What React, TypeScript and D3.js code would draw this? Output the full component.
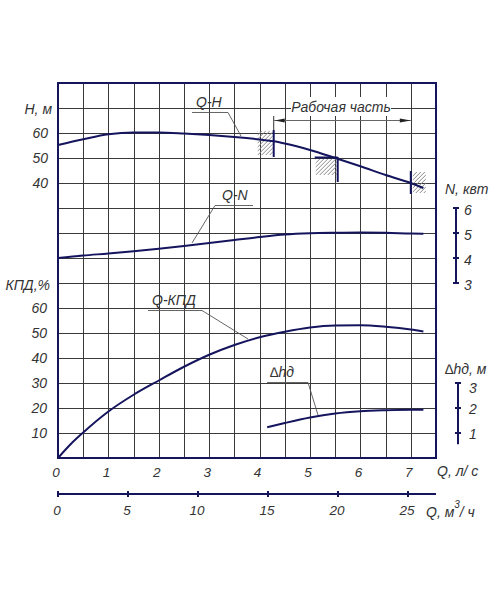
import React, { useEffect, useRef } from "react";
import * as d3 from "d3";

// Q-H curve (Q in l/s, H in m)
const qhFlow = [0, 0.5, 1, 1.5, 2, 2.5, 3, 3.5, 4, 4.28, 4.5, 5, 5.5, 6, 6.5, 7, 7.25];
const qhHead = [55.2, 57.5, 59.5, 60.2, 60.2, 59.8, 59.2, 58.4, 57.4, 56.7, 55.8, 53.2, 50, 46.7, 43.2, 40, 38];

// Q-N curve (N in kW)
const qnFlow = [0, 0.5, 1, 1.5, 2, 2.5, 3, 3.5, 4, 4.5, 5, 5.5, 6, 6.5, 7, 7.25];
const qnPower = [4.0, 4.1, 4.18, 4.27, 4.37, 4.48, 4.6, 4.72, 4.84, 4.94, 4.99, 5.01, 5.02, 5.01, 4.98, 4.97];

// Q-КПД curve (%)
const qkFlow = [0, 0.25, 0.5, 1, 1.5, 2, 2.5, 3, 3.5, 4, 4.5, 5, 5.5, 6, 6.5, 7, 7.25];
const qkEff = [0, 5.5, 10.2, 18.6, 25.3, 31, 36.5, 41.3, 45.2, 48.3, 50.5, 52.2, 53, 53.1, 52.5, 51.4, 50.6];

// Δhд curve (m)
const dhFlow = [4.15, 4.5, 5, 5.5, 6, 6.5, 7, 7.25];
const dhHead = [1.23, 1.4, 1.62, 1.78, 1.87, 1.91, 1.93, 1.93];

// tick labels
const qLsTicks = [0, 1, 2, 3, 4, 5, 6, 7];
const qM3Ticks = [0, 5, 10, 15, 20, 25];
const hTicks = [40, 50, 60];
const kpdTicks = [10, 20, 30, 40, 50, 60];
const nTicks = [3, 4, 5, 6];
const dhTicks = [1, 2, 3];

// working range markers (Q, l/s)
const workStart = 4.28;
const workMid = 5.55;
const workEnd = 7.0;

export default function App() {
  const svgRef = useRef<SVGSVGElement>(null);

  useEffect(() => {
    const width = 500;
    const height = 600;
    const left = 58;
    const right = 436;
    const top = 83;
    const bottom = 458;
    const navy = "#15155e";
    const textCol = "#333";
    const font = "'Liberation Sans', Arial, sans-serif";

    const svg = d3
      .select(svgRef.current)
      .attr("width", width)
      .attr("height", height);
    svg.selectAll("*").remove();

    svg.append("rect").attr("width", width).attr("height", height).attr("fill", "#fff");

    const x = d3.scaleLinear().domain([0, 7.5]).range([left, right]);
    const xM3 = d3.scaleLinear().domain([0, 27]).range([left, right]);
    const cell = d3.scaleLinear().domain([0, 15]).range([bottom, top]);
    const yH = d3.scaleLinear().domain([-70, 80]).range([bottom, top]);
    const yKpd = d3.scaleLinear().domain([0, 150]).range([bottom, top]);
    const yN = d3.scaleLinear().domain([-4, 11]).range([bottom, top]);
    const yDh = d3.scaleLinear().domain([0, 15]).range([bottom, top]);

    const label = (
      tx: number,
      ty: number,
      txt: string,
      anchor = "start",
      size = 14,
    ) =>
      svg
        .append("text")
        .attr("x", tx)
        .attr("y", ty)
        .attr("text-anchor", anchor)
        .style("font-family", font)
        .style("font-style", "italic")
        .style("font-size", `${size}px`)
        .attr("fill", textCol)
        .text(txt);

    // Grid
    const grid = svg.append("g").attr("stroke", "#3a3a3a").attr("stroke-width", 1);
    d3.range(1, 15).forEach((i) => {
      const gx = Math.round(x(i * 0.5)) + 0.5;
      grid.append("line").attr("x1", gx).attr("x2", gx).attr("y1", top).attr("y2", bottom);
      const gy = Math.round(cell(i)) + 0.5;
      grid.append("line").attr("x1", left).attr("x2", right).attr("y1", gy).attr("y2", gy);
    });

    // Frame
    svg
      .append("rect")
      .attr("x", left)
      .attr("y", top)
      .attr("width", right - left)
      .attr("height", bottom - top)
      .attr("fill", "none")
      .attr("stroke", navy)
      .attr("stroke-width", 2);

    // Hatching helper
    let clipId = 0;
    const hatch = (hx: number, hy: number, w: number, h: number) => {
      const id = `hclip${clipId++}`;
      svg
        .append("clipPath")
        .attr("id", id)
        .append("rect")
        .attr("x", hx)
        .attr("y", hy)
        .attr("width", w)
        .attr("height", h);
      const g = svg.append("g").attr("clip-path", `url(#${id})`);
      for (let k = 0; k < w + h; k += 4) {
        g.append("line")
          .attr("x1", hx + k - h)
          .attr("y1", hy + h)
          .attr("x2", hx + k)
          .attr("y2", hy)
          .attr("stroke", "#888")
          .attr("stroke-width", 1);
      }
    };

    // Working part markers
    const xs = x(workStart);
    const xm = x(workMid);
    const xe = x(workEnd);
    hatch(xs - 16, 131, 15, 24);
    hatch(xm - 22, 159, 21, 16);
    hatch(xe + 2, 172, 13, 21);

    const markers = svg.append("g").attr("stroke", navy).attr("stroke-width", 2);
    markers.append("line").attr("x1", xs).attr("x2", xs).attr("y1", 130).attr("y2", 157);
    markers.append("line").attr("x1", xm - 23).attr("x2", xm).attr("y1", 157.5).attr("y2", 157.5);
    markers.append("line").attr("x1", xm).attr("x2", xm).attr("y1", 157).attr("y2", 182);
    markers.append("line").attr("x1", xe).attr("x2", xe).attr("y1", 171).attr("y2", 194);

    // Dimension line "Рабочая часть"
    svg.append("line").attr("x1", xs).attr("x2", xs).attr("y1", 116).attr("y2", 130)
      .attr("stroke", "#333").attr("stroke-width", 1);
    svg.append("line").attr("x1", xs).attr("x2", xe).attr("y1", 120.5).attr("y2", 120.5)
      .attr("stroke", "#666").attr("stroke-width", 1);
    svg.append("path")
      .attr("d", `M${xs + 1},120.5 L${xs + 11},118.5 L${xs + 11},122.5 Z`)
      .attr("fill", "#222");
    svg.append("path")
      .attr("d", `M${xe},120.5 L${xe - 11},118.5 L${xe - 11},122.5 Z`)
      .attr("fill", "#222");
    svg.append("rect").attr("x", 291).attr("y", 97).attr("width", 100).attr("height", 19).attr("fill", "#fff");
    label(341, 112, "Рабочая часть", "middle", 14);

    // Curves
    const drawCurve = (
      qs: number[],
      vs: number[],
      yScale: d3.ScaleLinear<number, number>,
    ) => {
      const pts = qs.map((q, i) => [q, vs[i]] as [number, number]);
      const line = d3
        .line<[number, number]>()
        .x((d) => x(d[0]))
        .y((d) => yScale(d[1]))
        .curve(d3.curveMonotoneX);
      svg
        .append("path")
        .datum(pts)
        .attr("fill", "none")
        .attr("stroke", navy)
        .attr("stroke-width", 2)
        .attr("d", line);
    };
    drawCurve(qhFlow, qhHead, yH);
    drawCurve(qnFlow, qnPower, yN);
    drawCurve(qkFlow, qkEff, yKpd);
    drawCurve(dhFlow, dhHead, yDh);

    // Leader lines with curve names
    const leader = (pts: [number, number][]) =>
      svg
        .append("path")
        .attr("d", d3.line()(pts))
        .attr("fill", "none")
        .attr("stroke", "#555")
        .attr("stroke-width", 0.9);
    leader([[192, 112.5], [228, 112.5], [241, 136]]);
    label(196, 107, "Q-H");
    leader([[253, 205.5], [215, 205.5], [192, 243]]);
    label(222, 200, "Q-N");
    leader([[148, 310.5], [202, 310.5], [248, 339]]);
    label(152, 305, "Q-КПД");
    leader([[267, 382.5], [308, 382.5], [318, 415]]);
    label(270, 377, "∆hд");

    // Left axis labels
    label(52, 114, "Н, м", "end");
    hTicks.forEach((t) => label(48, yH(t) + 5, String(t), "end"));
    label(50, 290, "КПД,%", "end");
    kpdTicks.forEach((t) => label(47, yKpd(t) + 5, String(t), "end"));

    // Right axis: N
    const nx = 456;
    const nAxis = svg.append("g").attr("stroke", navy).attr("stroke-width", 2);
    nAxis.append("line").attr("x1", nx).attr("x2", nx).attr("y1", yN(6)).attr("y2", yN(3));
    nTicks.forEach((t) => {
      nAxis.append("line").attr("x1", nx - 3).attr("x2", nx + 3).attr("y1", yN(t)).attr("y2", yN(t));
      label(464, yN(t) + 7, String(t));
    });
    label(445, 194, "N, квт");

    // Right axis: Δhд
    const dx = 458;
    const dAxis = svg.append("g").attr("stroke", navy).attr("stroke-width", 2);
    dAxis.append("line").attr("x1", dx).attr("x2", dx).attr("y1", yDh(3)).attr("y2", yDh(0.55));
    dhTicks.forEach((t) => {
      dAxis.append("line").attr("x1", dx - 3).attr("x2", dx + 3).attr("y1", yDh(t)).attr("y2", yDh(t));
      label(469, yDh(t) + (t === 3 ? 10 : 6), String(t));
    });
    label(445, 374, "∆hд, м");

    // Bottom axis: Q l/s
    qLsTicks.forEach((t) => label(x(t) - 2, 477, String(t), "middle", 13.5));
    label(437, 476, "Q, л/ с");

    // Bottom axis: Q m3/h
    const ay = 494;
    const mAxis = svg.append("g").attr("stroke", navy).attr("stroke-width", 2);
    mAxis.append("line").attr("x1", left).attr("x2", right).attr("y1", ay).attr("y2", ay);
    qM3Ticks.forEach((t) => {
      mAxis.append("line").attr("x1", xM3(t)).attr("x2", xM3(t)).attr("y1", ay - 3).attr("y2", ay + 3);
      label(xM3(t) - 1, 515, String(t), "middle", 13.5);
    });
    const qm = label(426, 517, "Q, м");
    qm.append("tspan").attr("dy", -9).style("font-size", "10px").text("3");
    qm.append("tspan").attr("dy", 9).text("/ ч");
  }, []);

  return (
    <svg
      ref={svgRef}
      style={{ position: "absolute", left: 0, top: 0, display: "block" }}
    />
  );
}
